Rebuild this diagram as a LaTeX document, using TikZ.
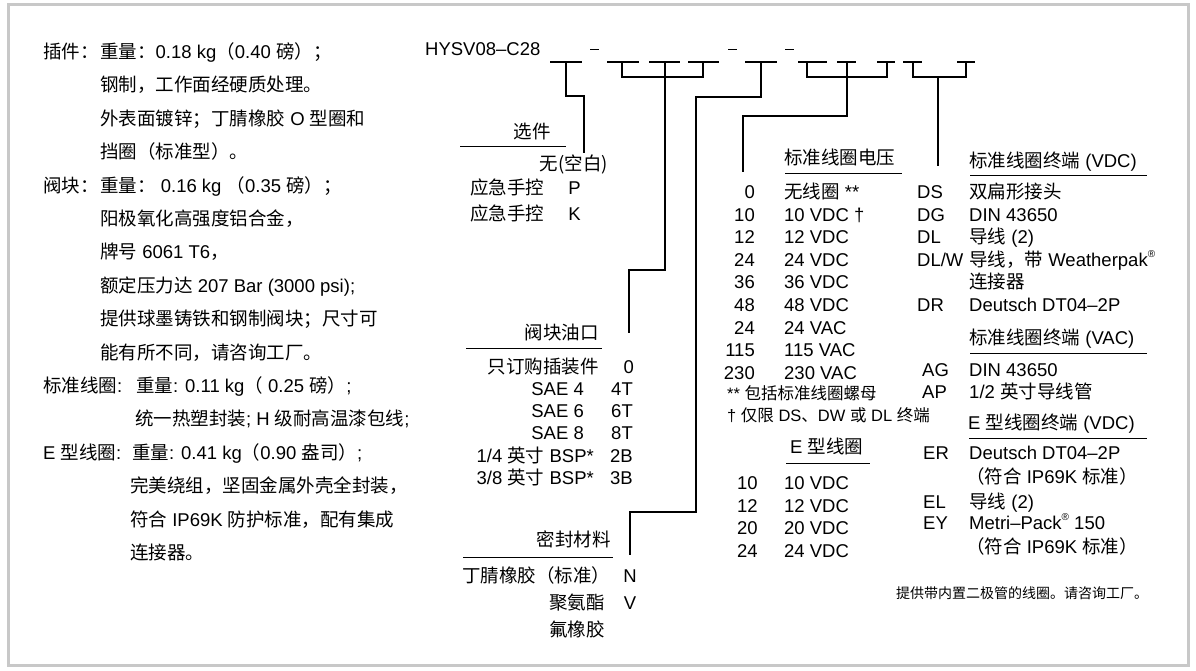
\documentclass[tikz,border=0pt]{standalone}
\usepackage{fontspec}
\setmainfont{Liberation Sans}
\newfontfamily\cjk{Noto Sans CJK SC}
\newcommand\zh[1]{{\cjk #1}}
\newcommand\regmark{\raisebox{0.5em}{\fontsize{10}{10}\selectfont ®}}
\definecolor{framegray}{RGB}{200,200,200}

\begin{document}
\begin{tikzpicture}[x=1pt, y=-1pt,
    txt/.style={anchor=base west, inner sep=0pt, font=\fontsize{18.5}{20}\selectfont},
    txr/.style={txt, anchor=base east},
    note/.style={txt, font=\fontsize{16.5}{18}\selectfont},
    code/.style={line width=1.1pt},
    rule/.style={line width=0.9pt}]
    \path[use as bounding box, fill=white] (0,0) rectangle (1196,671);
    \draw[line width=3pt, framegray] (8.5,4.5) rectangle (1188.5,665.5);

    \coordinate (s1) at (566,62);
    \coordinate (s2) at (622,62);
    \coordinate (s3) at (665,62);
    \coordinate (s4) at (703,62);
    \coordinate (sA) at (761,62);
    \coordinate (sB) at (807,62);
    \coordinate (sC) at (847,62);
    \coordinate (sD) at (887,62);
    \coordinate (sE) at (913,62);
    \coordinate (sF) at (966,62);
    \coordinate (optEnd) at (584,153);
    \coordinate (portEnd) at (629,333);
    \coordinate (sealEnd) at (630,555);
    \coordinate (voltEnd) at (743,172);
    \coordinate (termEnd) at (938,166);

%left column: weights and materials
    \node[txt] (insL) at (43,58.5) {\zh{插件：}};
    \node[txt] (ins1) at (100,58.5) {\zh{重量：}0.18 kg\zh{（}0.40 \zh{磅）；}};
    \node[txt] (ins2) at (100,91.9) {\zh{钢制，工作面经硬质处理。}};
    \node[txt] (ins3) at (100,125.3) {\zh{外表面镀锌；丁腈橡胶} O \zh{型圈和}};
    \node[txt] (ins4) at (100,158.7) {\zh{挡圈（标准型）。}};
    \node[txt] (bodyL) at (43,192.1) {\zh{阀块：}};
    \node[txt] (body1) at (100,192.1) {\zh{重量：} 0.16 kg \zh{（}0.35 \zh{磅）；}};
    \node[txt] (body2) at (100,225.5) {\zh{阳极氧化高强度铝合金，}};
    \node[txt] (body3) at (100,258.9) {\zh{牌号} 6061 T6\zh{，}};
    \node[txt] (body4) at (100,292.3) {\zh{额定压力达} 207 Bar (3000 psi);};
    \node[txt] (body5) at (100,325.7) {\zh{提供球墨铸铁和钢制阀块；尺寸可}};
    \node[txt] (body6) at (100,359.1) {\zh{能有所不同，请咨询工厂。}};
    \node[txt] (stdL) at (43,392.5) {\zh{标准线圈}:};
    \node[txt] (std1) at (136,392.5) {\zh{重量}: 0.11 kg\zh{（} 0.25 \zh{磅）};};
    \node[txt] (std2) at (135,425.9) {\zh{统一热塑封装}; H \zh{级耐高温漆包线};};
    \node[txt] (ecoilL) at (43,459.3) {E \zh{型线圈}:};
    \node[txt] (ecoil1) at (132,459.3) {\zh{重量}: 0.41 kg\zh{（}0.90 \zh{盎司）};};
    \node[txt] (ecoil2) at (130,492.7) {\zh{完美绕组，坚固金属外壳全封装，}};
    \node[txt] (ecoil3) at (130,526.1) {\zh{符合} IP69K \zh{防护标准，配有集成}};
    \node[txt] (ecoil4) at (130,559.5) {\zh{连接器。}};

%order code
    \node[txt] (model) at (425,55.5) {HYSV08--C28};
    \foreach \a/\b in {550/582, 607/639, 649/680, 688/719, 745/777,
                       798/827, 837/856, 877/895, 903/922, 957/975}
        \draw[code] (\a,62) -- (\b,62);
    \foreach \a in {590, 728, 785}
        \draw[line width=1pt] (\a,50) -- ++(9,0);

    \draw[code] (s1) -- ++(0,34) -| (optEnd); % options
    \draw[code] (s2) -- ++(0,15) -| (s4);
    \draw[code] (s3) |- (portEnd |- 0,270) -- (portEnd); % ports
    \draw[code] (sA) |- (696,97) |- (sealEnd |- 0,512) -- (sealEnd); % seals
    \draw[code] (sB) -- ++(0,15) -| (sD);
    \draw[code] (sC) |- (voltEnd |- 0,116) -- (voltEnd); % voltage
    \draw[code] (sE) -- ++(0,15) -| (sF);
    \draw[code] (termEnd |- 0,77) -- (termEnd); % terminals

%options
    \node[txr] (optH) at (551,138.5) {\zh{选件}};
    \draw[rule] (460,146) -- (566,146);
    \node[txr] (opt0) at (608,170.5) {\zh{无(空白)}};
    \node[txt] (opt1) at (470,194.5) {\zh{应急手控}};
    \node[txr] (optP) at (581,194.5) {P};
    \node[txt] (opt2) at (470,220.5) {\zh{应急手控}};
    \node[txr] (optK) at (581,220.5) {K};

%ports
    \node[txr] (portH) at (599,339.5) {\zh{阀块油口}};
    \draw[rule] (466,348) -- (602,348);
    \node[txr] (port0) at (599,373.5) {\zh{只订购插装件}};
    \node[txr] (port0c) at (634,373.5) {0};
    \node[txr] (port1) at (584,395.5) {SAE 4};
    \node[txr] (port1c) at (633,395.5) {4T};
    \node[txr] (port2) at (584,417.5) {SAE 6};
    \node[txr] (port2c) at (633,417.5) {6T};
    \node[txr] (port3) at (584,439.5) {SAE 8};
    \node[txr] (port3c) at (633,439.5) {8T};
    \node[txr] (port4) at (594,462.5) {1/4 \zh{英寸} BSP*};
    \node[txr] (port4c) at (633,462.5) {2B};
    \node[txr] (port5) at (594,484.5) {3/8 \zh{英寸} BSP*};
    \node[txr] (port5c) at (633,484.5) {3B};

%seals
    \node[txr] (sealH) at (611,546.5) {\zh{密封材料}};
    \draw[rule] (463,557) -- (613,557);
    \node[txt] (seal1) at (462,582.5) {\zh{丁腈橡胶（标准）}};
    \node[txt, anchor=base] (seal1c) at (630,582.5) {N};
    \node[txr] (seal2) at (605,609.5) {\zh{聚氨酯}};
    \node[txt, anchor=base] (seal2c) at (630,609.5) {V};
    \node[txr] (seal3) at (605,636.5) {\zh{氟橡胶}};

%standard coil voltage
    \node[txt] (voltH) at (784,164.5) {\zh{标准线圈电压}};
    \draw[rule] (785,173) -- (902,173);
    \node[txr] (v0) at (755,198.5) {0};    \node[txt] (v0d) at (784,198.5) {\zh{无线圈} **};
    \node[txr] (v1) at (755,221.1) {10};   \node[txt] (v1d) at (784,221.1) {10 VDC †};
    \node[txr] (v2) at (755,243.7) {12};   \node[txt] (v2d) at (784,243.7) {12 VDC};
    \node[txr] (v3) at (755,266.3) {24};   \node[txt] (v3d) at (784,266.3) {24 VDC};
    \node[txr] (v4) at (755,288.9) {36};   \node[txt] (v4d) at (784,288.9) {36 VDC};
    \node[txr] (v5) at (755,311.5) {48};   \node[txt] (v5d) at (784,311.5) {48 VDC};
    \node[txr] (v6) at (755,334.1) {24};   \node[txt] (v6d) at (784,334.1) {24 VAC};
    \node[txr] (v7) at (755,356.7) {115};  \node[txt] (v7d) at (784,356.7) {115 VAC};
    \node[txr] (v8) at (755,379.3) {230};  \node[txt] (v8d) at (784,379.3) {230 VAC};
    \node[note] (fn1) at (727,399.5) {** \zh{包括标准线圈螺母}};
    \node[note] (fn2) at (727,421.5) {† \zh{仅限} DS\zh{、}DW \zh{或} DL \zh{终端}};

%E coil voltage
    \node[txt] (evoltH) at (790,453.5) {E \zh{型线圈}};
    \draw[rule] (786,463) -- (870,463);
    \node[txt] (e1) at (737,489.5) {10};  \node[txt] (e1d) at (784,489.5) {10 VDC};
    \node[txt] (e2) at (737,512.5) {12};  \node[txt] (e2d) at (784,512.5) {12 VDC};
    \node[txt] (e3) at (737,534.5) {20};  \node[txt] (e3d) at (784,534.5) {20 VDC};
    \node[txt] (e4) at (737,557.5) {24};  \node[txt] (e4d) at (784,557.5) {24 VDC};

%terminations
    \node[txt] (termH) at (969,167.5) {\zh{标准线圈终端} (VDC)};
    \draw[rule] (970,175) -- (1147,175);
    \node[txt] (t1) at (917,198.5) {DS};   \node[txt] (t1d) at (969,198.5) {\zh{双扁形接头}};
    \node[txt] (t2) at (917,221.1) {DG};   \node[txt] (t2d) at (969,221.1) {DIN 43650};
    \node[txt] (t3) at (917,243.7) {DL};   \node[txt] (t3d) at (969,243.7) {\zh{导线} (2)};
    \node[txt] (t4) at (917,266.3) {DL/W}; \node[txt] (t4d) at (969,266.3) {\zh{导线，带} Weatherpak\regmark};
    \node[txt] (t4e) at (969,288.9) {\zh{连接器}};
    \node[txt] (t5) at (917,311.5) {DR};   \node[txt] (t5d) at (969,311.5) {Deutsch DT04--2P};
    \node[txt] (acH) at (969,344.5) {\zh{标准线圈终端} (VAC)};
    \draw[rule] (970,353) -- (1147,353);
    \node[txt] (a1) at (922,376.5) {AG};   \node[txt] (a1d) at (969,376.5) {DIN 43650};
    \node[txt] (a2) at (922,398.5) {AP};   \node[txt] (a2d) at (969,398.5) {1/2 \zh{英寸导线管}};
    \node[txt] (etermH) at (968,429.5) {E \zh{型线圈终端} (VDC)};
    \draw[rule] (969,438) -- (1147,438);
    \node[txt] (r1) at (923,459.5) {ER};   \node[txt] (r1d) at (969,459.5) {Deutsch DT04--2P};
    \node[txt] (r1e) at (966,483.5) {\zh{（符合} IP69K \zh{标准）}};
    \node[txt] (r2) at (923,508.5) {EL};   \node[txt] (r2d) at (969,508.5) {\zh{导线} (2)};
    \node[txt] (r3) at (923,529.5) {EY};   \node[txt] (r3d) at (969,529.5) {Metri--Pack\regmark{} 150};
    \node[txt] (r3e) at (966,553.5) {\zh{（符合} IP69K \zh{标准）}};
    \node[txt, font=\fontsize{14}{16}\selectfont] (diode) at (896,598) {\zh{提供带内置二极管的线圈。请咨询工厂。}};
\end{tikzpicture}
\end{document}
